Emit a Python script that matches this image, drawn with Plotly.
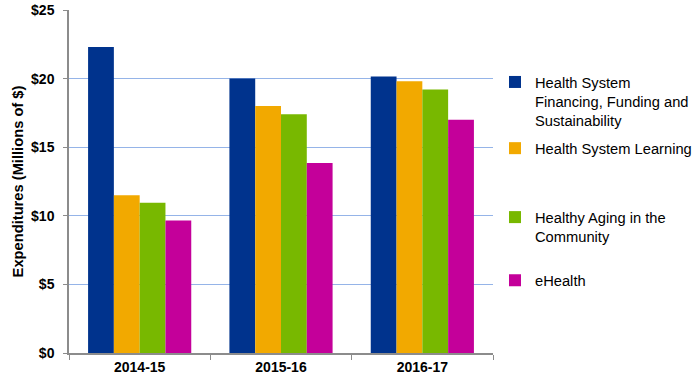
import plotly.graph_objects as go

categories = ["2014-15", "2015-16", "2016-17"]
series_names = [
    "Health System<br>Financing, Funding and<br>Sustainability",
    "Health System Learning",
    "Healthy Aging in the<br>Community",
    "eHealth",
]
financing = [22.3, 20.0, 20.15]
learning = [11.5, 18.0, 19.8]
aging = [10.95, 17.4, 19.2]
ehealth = [9.65, 13.85, 17.0]
y_ticks = [0, 5, 10, 15, 20, 25]
y_tick_labels = ["$0", "$5", "$10", "$15", "$20", "$25"]

colors = ["#00338d", "#f2a900", "#78b800", "#c4009a"]
values = [financing, learning, aging, ehealth]
legend_ids = ["legend", "legend2", "legend3", "legend4"]
legend_tops = [0.837, 0.644, 0.443, 0.259]

FAM = "Liberation Sans, Arial, sans-serif"

W, H = 700, 385
PL, PR, PT, PB = 69, 493, 10, 353  # plot area in pixels

fig = go.Figure()
for name, vals, col, lid in zip(series_names, values, colors, legend_ids):
    fig.add_trace(go.Bar(x=categories, y=vals, name=name, marker_color=col,
                         marker_line_width=0, legend=lid))

font = dict(family=FAM, size=14.7, color="#000000")
legend_x = 1.0 + (535 - 40 - PR) / (PR - PL)
layout_legends = {}
for lid, top in zip(legend_ids, legend_tops):
    layout_legends[lid] = dict(x=legend_x, xanchor="left", y=top, yanchor="top",
                               valign="top", font=font, bgcolor="rgba(0,0,0,0)",
                               itemclick=False, itemdoubleclick=False)

fig.update_layout(
    width=W, height=H,
    margin=dict(l=PL, r=W - PR, t=PT, b=H - PB, pad=0, autoexpand=False),
    plot_bgcolor="white", paper_bgcolor="white",
    barmode="group", bargap=0.27, bargroupgap=0,
    font=font,
    showlegend=True,
    **layout_legends,
)
fig.update_xaxes(
    showline=True, linecolor="#8c8c8c", linewidth=1.5,
    ticks="outside", tickson="boundaries", ticklen=5, tickcolor="#8c8c8c",
    tickfont=dict(family=FAM, size=14, color="#000000", weight="bold"),
    showgrid=False, automargin=False,
)
fig.update_yaxes(
    range=[0, 25], tickvals=y_ticks, ticktext=y_tick_labels,
    showline=True, linecolor="#8c8c8c", linewidth=1.5,
    ticks="outside", ticklen=4, tickcolor="#8c8c8c",
    ticklabelstandoff=6, ticklabeloverflow="allow",
    showgrid=True, gridcolor="#95b4e8", gridwidth=1,
    zeroline=False, automargin=False,
    tickfont=dict(family=FAM, size=14, color="#000000", weight="bold"),
    title=dict(text="Expenditures (Millions of $)", standoff=4,
               font=dict(family=FAM, size=14.7, color="#000000", weight="bold")),
)

fig.write_html("out.html",
               config={"displayModeBar": False},
               post_script="document.body.style.margin='0';")
